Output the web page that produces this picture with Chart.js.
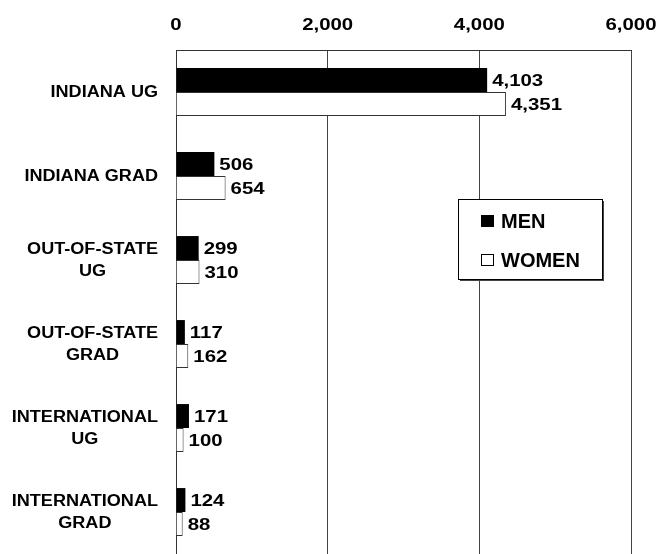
<!DOCTYPE html>
<html>
<head>
<meta charset="utf-8">
<script src="https://cdn.jsdelivr.net/npm/chart.js@4/dist/chart.umd.min.js"></script>
<style>
  body { margin: 0; background: #fff; }
  canvas { display: block; }
</style>
</head>
<body>
<canvas id="studentChart" width="669" height="554"></canvas>
<script>
const categories = [
  ["INDIANA UG"],
  ["INDIANA GRAD"],
  ["OUT-OF-STATE", "UG"],
  ["OUT-OF-STATE", "GRAD"],
  ["INTERNATIONAL", "UG"],
  ["INTERNATIONAL", "GRAD"]
];
const men = [4103, 506, 299, 117, 171, 124];
const women = [4351, 654, 310, 162, 100, 88];
const xTicks = [0, 2000, 4000, 6000];

const FONT = "'Liberation Sans', Arial, sans-serif";

// the original text is a bit wider than Arial, so stretch it horizontally
function wideText(ctx, text, x, y, align, sx) {
  ctx.save();
  ctx.translate(x, y);
  ctx.scale(sx, 1);
  ctx.textAlign = align;
  ctx.fillText(text, 0, 0);
  ctx.restore();
}

const axisText = {
  id: "axisText",
  afterDraw(chart) {
    const ctx = chart.ctx;
    const xScale = chart.scales.x;
    const yScale = chart.scales.y;
    ctx.save();
    ctx.fillStyle = "#000";
    ctx.textBaseline = "middle";

    // x ticks on top
    ctx.font = "bold 17px " + FONT;
    xTicks.forEach(v => {
      wideText(ctx, v.toLocaleString("en-US"), xScale.getPixelForValue(v), 25, "center", 1.2);
    });

    // category labels: right-aligned block, lines centered inside it
    const sx = 1.13;
    ctx.font = "bold 16px " + FONT;
    categories.forEach((lines, i) => {
      const y = yScale.getPixelForTick(i);
      const w = Math.max(...lines.map(l => ctx.measureText(l).width)) * sx;
      const cx = 158 - w / 2;
      const lh = 22;
      const y0 = y - (lines.length - 1) * lh / 2 + 1;
      lines.forEach((l, j) => wideText(ctx, l, cx, y0 + j * lh, "center", sx));
    });
    ctx.restore();
  }
};

const valueLabels = {
  id: "valueLabels",
  afterDatasetsDraw(chart) {
    const ctx = chart.ctx;
    ctx.save();
    ctx.font = "bold 17px " + FONT;
    ctx.fillStyle = "#000";
    ctx.textBaseline = "middle";
    chart.data.datasets.forEach((ds, di) => {
      chart.getDatasetMeta(di).data.forEach((bar, i) => {
        wideText(ctx, ds.data[i].toLocaleString("en-US"), bar.x + 5, bar.y + 1, "left", 1.2);
      });
    });
    ctx.restore();
  }
};

const boxLegend = {
  id: "boxLegend",
  afterDraw(chart) {
    const ctx = chart.ctx;
    const x = 458, y = 199, w = 144, h = 80;
    ctx.save();
    ctx.fillStyle = "#444";
    ctx.fillRect(x + 2, y + 2, w, h);
    ctx.fillStyle = "#fff";
    ctx.fillRect(x, y, w, h);
    ctx.strokeStyle = "#000";
    ctx.lineWidth = 1;
    ctx.strokeRect(x + 0.5, y + 0.5, w, h);
    ctx.font = "bold 20px " + FONT;
    ctx.textBaseline = "middle";
    chart.data.datasets.forEach((ds, i) => {
      const cy = 221 + i * 39;
      ctx.fillStyle = ds.backgroundColor;
      ctx.fillRect(481, cy - 6, 13, 12);
      ctx.strokeStyle = "#000";
      ctx.strokeRect(481.5, cy - 5.5, 12, 11);
      ctx.fillStyle = "#000";
      ctx.fillText(ds.label, 501, cy + 1);
    });
    ctx.restore();
  }
};

new Chart(document.getElementById("studentChart"), {
  type: "bar",
  data: {
    labels: categories.map(c => c.join(" ")),
    datasets: [
      {
        label: "MEN",
        data: men,
        backgroundColor: "#000",
        borderColor: "#000",
        borderWidth: 0,
        categoryPercentage: 0.57,
        barPercentage: 1.0
      },
      {
        label: "WOMEN",
        data: women,
        backgroundColor: "#fff",
        borderColor: "#333",
        borderWidth: 1,
        categoryPercentage: 0.57,
        barPercentage: 1.0
      }
    ]
  },
  options: {
    indexAxis: "y",
    responsive: false,
    animation: false,
    devicePixelRatio: 1,
    layout: { padding: { left: 0, right: 38, top: 0, bottom: 0 } },
    plugins: {
      legend: { display: false },
      tooltip: { enabled: false }
    },
    scales: {
      x: {
        position: "top",
        min: 0,
        max: 6000,
        afterBuildTicks: scale => { scale.ticks = xTicks.map(v => ({ value: v })); },
        afterFit: scale => { scale.height = 50; },
        ticks: { display: false },
        grid: { color: "#444", drawTicks: false },
        border: { color: "#333" }
      },
      y: {
        afterFit: scale => { scale.width = 176; },
        ticks: { display: false },
        grid: { display: false },
        border: { color: "#333" }
      }
    }
  },
  plugins: [axisText, valueLabels, boxLegend]
});
</script>
</body>
</html>
